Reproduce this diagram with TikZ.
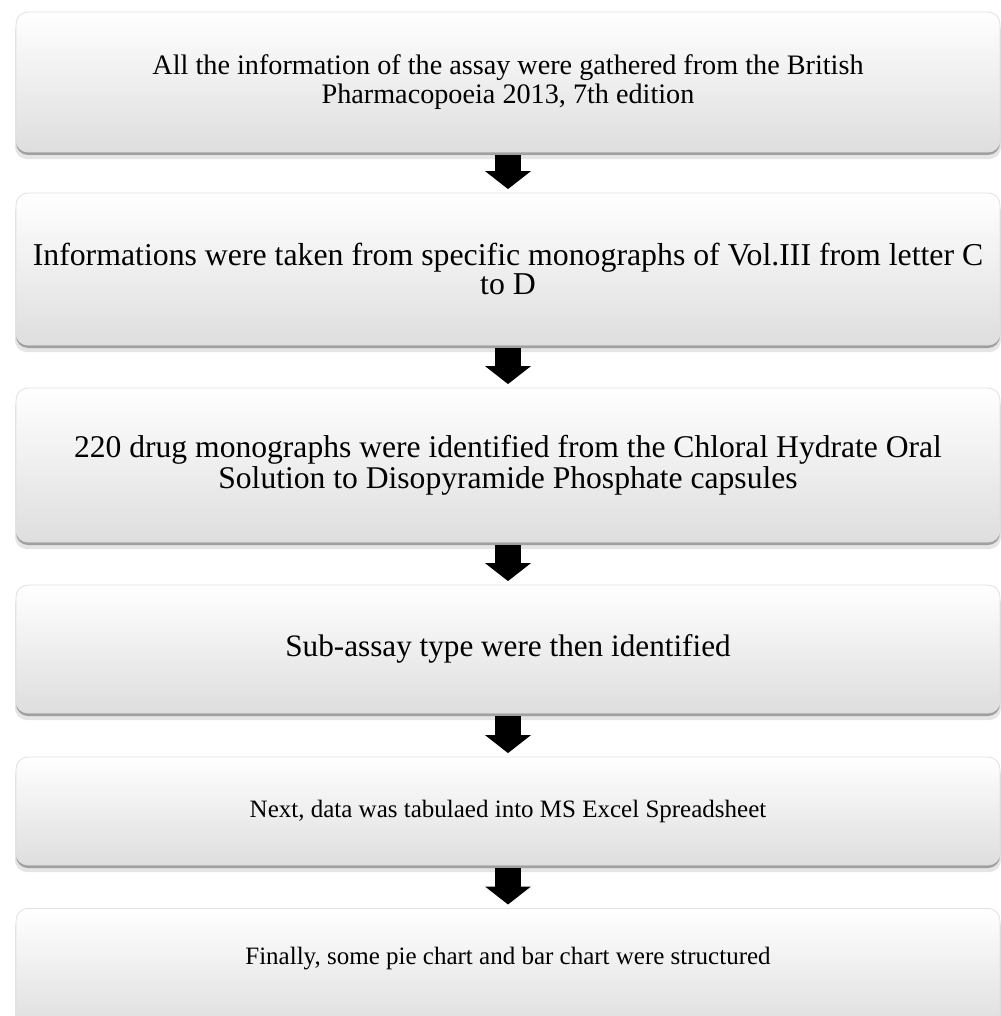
\documentclass[tikz,border=0pt]{standalone}
\usepackage{fontspec}
\setmainfont{Liberation Serif}
\usetikzlibrary{arrows.meta,shadows}

\begin{document}
\begin{tikzpicture}[x=0.5pt,y=-0.5pt,
    stepbox/.style={rectangle, rounded corners=6pt, draw=black!12, line width=0.4pt,
        top color=white, middle color=white, bottom color=black!13,
        minimum width=492pt, align=center, inner sep=0pt,
        font=\fontsize{12.5}{14.5}\selectfont,
        general shadow={fill=black, opacity=0.10, shadow yshift=-3.5pt, shadow scale=1.002},
        general shadow={fill=black, opacity=0.30, shadow yshift=-1.5pt}},
    flow/.style={line width=13pt, -{Triangle[width=22.5pt,length=9pt]},
        shorten <=1.5pt, shorten >=1.75pt}]
    \useasboundingbox (0,0) rectangle (1000,1016);
    \node[stepbox, minimum height=70pt, font=\fontsize{14.1}{14.5}\selectfont] (b1) at (508,82)
        {All the information of the assay were gathered from the British\\Pharmacopoeia 2013, 7th edition};
    \node[stepbox, minimum height=76pt, font=\fontsize{15.9}{13.2}\selectfont] (b2) at (508,269)
        {Informations were taken from specific monographs of Vol.III from letter C\\to D};
    \node[stepbox, minimum height=77pt, font=\fontsize{15.8}{13.4}\selectfont] (b3) at (508,465)
        {220 drug monographs were identified from the Chloral Hydrate Oral\\Solution to Disopyramide Phosphate capsules};
    \node[stepbox, minimum height=64pt, font=\fontsize{15.6}{17}\selectfont] (b4) at (508,649)
        {Sub-assay type were then identified};
    \node[stepbox, minimum height=54pt] (b5) at (508,811)
        {Next, data was tabulaed into MS Excel Spreadsheet};
    \node[stepbox, anchor=north, text height=28pt, text depth=33pt] (b6) at (508,908)
        {Finally, some pie chart and bar chart were structured};
    \draw[flow] (b1.south) -- (b2.north);
    \draw[flow] (b2.south) -- (b3.north);
    \draw[flow] (b3.south) -- (b4.north);
    \draw[flow] (b4.south) -- (b5.north);
    \draw[flow] (b5.south) -- (b6.north);
\end{tikzpicture}
\end{document}
